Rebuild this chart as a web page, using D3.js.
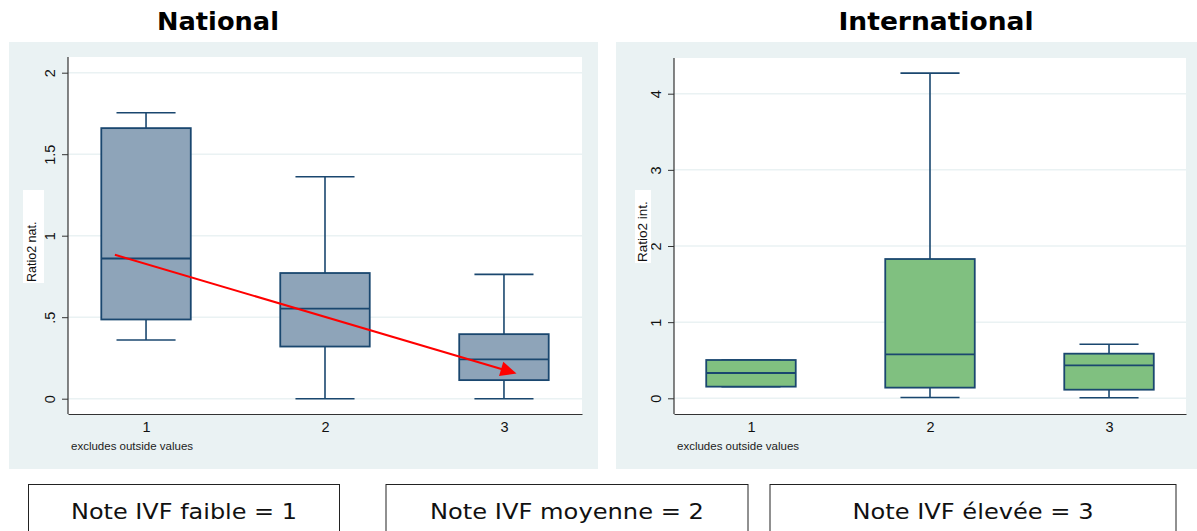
<!DOCTYPE html>
<html><head><meta charset="utf-8">
<script src="https://cdn.jsdelivr.net/npm/d3@7"></script>
<style>body{margin:0;background:#fff}svg{display:block}</style>
</head><body>
<svg id="c" width="1197" height="531"></svg>
<script>
// ---- data ----
const categories = [1, 2, 3];
const natLow  = [0.36, 0.0, 0.0];
const natQ1   = [0.486, 0.32, 0.114];
const natMed  = [0.86, 0.553, 0.241];
const natQ3   = [1.66, 0.771, 0.396];
const natHigh = [1.754, 1.362, 0.763];
const intLow  = [0.153, 0.01, 0.008];
const intQ1   = [0.153, 0.14, 0.113];
const intMed  = [0.332, 0.578, 0.433];
const intQ3   = [0.503, 1.829, 0.586];
const intHigh = [0.503, 4.27, 0.709];
const natTicks = [0, 0.5, 1, 1.5, 2];
const natTickLabels = ["0", ".5", "1", "1.5", "2"];
const intTicks = [0, 1, 2, 3, 4];
const intTickLabels = ["0", "1", "2", "3", "4"];
const trendStart = [0.826, 0.883];
const trendEnd = [3.07, 0.155];
const panelTitles = ["National", "International"];
const yTitles = ["Ratio2 nat.", "Ratio2 int."];
const noteText = "excludes outside values";
const footLabels = ["Note IVF faible = 1", "Note IVF moyenne = 2", "Note IVF élevée = 3"];

const svg = d3.select("#c");
const BG = "#eaf2f3", LINE = "#1a476f";

function fitWidth(sel, w) {
  sel.attr("textLength", w).attr("lengthAdjust", "spacingAndGlyphs");
}

function panel(o) {
  const g = svg.append("g");
  g.append("rect").attr("x", o.bg[0]).attr("y", o.bg[1]).attr("width", o.bg[2]).attr("height", o.bg[3]).attr("fill", BG);
  g.append("rect").attr("x", o.px0).attr("y", o.py0).attr("width", o.px1 - o.px0).attr("height", o.py1 - o.py0).attr("fill", "#fff");
  const x = d3.scaleLinear().domain(o.xDomain).range([o.px0, o.px1]);
  const y = d3.scaleLinear().domain(o.yDomain).range(o.yRange);
  // grid
  g.append("g").selectAll("line").data(o.ticks).join("line")
    .attr("x1", o.px0).attr("x2", o.px1).attr("y1", d => y(d)).attr("y2", d => y(d))
    .attr("stroke", BG).attr("stroke-width", 1.5);
  // boxes
  const data = categories.map((c, i) => ({c, lo: o.lo[i], q1: o.q1[i], med: o.med[i], q3: o.q3[i], hi: o.hi[i]}));
  const bw = 0.25, cw = 0.165;
  const b = g.append("g").selectAll("g").data(data).join("g");
  b.append("line").attr("x1", d => x(d.c)).attr("x2", d => x(d.c)).attr("y1", d => y(d.hi)).attr("y2", d => y(d.q3)).attr("stroke", LINE).attr("stroke-width", 1.6);
  b.append("line").attr("x1", d => x(d.c)).attr("x2", d => x(d.c)).attr("y1", d => y(d.q1)).attr("y2", d => y(d.lo)).attr("stroke", LINE).attr("stroke-width", 1.6);
  b.append("line").attr("x1", d => x(d.c - cw)).attr("x2", d => x(d.c + cw)).attr("y1", d => y(d.hi)).attr("y2", d => y(d.hi)).attr("stroke", LINE).attr("stroke-width", 1.6);
  b.append("line").attr("x1", d => x(d.c - cw)).attr("x2", d => x(d.c + cw)).attr("y1", d => y(d.lo)).attr("y2", d => y(d.lo)).attr("stroke", LINE).attr("stroke-width", 1.6);
  b.append("rect").attr("x", d => x(d.c - bw)).attr("width", d => x(d.c + bw) - x(d.c - bw))
    .attr("y", d => y(d.q3)).attr("height", d => y(d.q1) - y(d.q3))
    .attr("fill", o.fill).attr("stroke", LINE).attr("stroke-width", 1.8);
  b.append("line").attr("x1", d => x(d.c - bw)).attr("x2", d => x(d.c + bw)).attr("y1", d => y(d.med)).attr("y2", d => y(d.med)).attr("stroke", LINE).attr("stroke-width", 1.8);
  // y axis
  const ya = g.append("g").attr("transform", `translate(${o.px0},0)`)
    .call(d3.axisLeft(y).tickValues(o.ticks).tickFormat((d, i) => o.tickLabels[i]).tickSize(6).tickSizeOuter(0));
  ya.select(".domain").remove();
  ya.selectAll(".tick line").attr("stroke", "#333");
  ya.selectAll(".tick text").attr("x", null).attr("dy", null).attr("text-anchor", "middle")
    .attr("transform", "translate(-13,0) rotate(-90)")
    .style("font-family", "'Liberation Sans', Arial, sans-serif").style("font-size", "14.5px").attr("fill", "#111");
  g.append("line").attr("x1", o.px0).attr("x2", o.px0).attr("y1", o.py0).attr("y2", o.py1).attr("stroke", "#333").attr("stroke-width", 1.2);
  // x axis
  const xa = g.append("g").attr("transform", `translate(0,${o.py1})`)
    .call(d3.axisBottom(x).tickValues(categories).tickFormat(d3.format("d")).tickSize(0).tickPadding(8).tickSizeOuter(0));
  xa.select(".domain").attr("stroke", "#333").attr("stroke-width", 1.2);
  xa.selectAll(".tick text").style("font-family", "'Liberation Sans', Arial, sans-serif").style("font-size", "14.5px").attr("fill", "#111");
  // y title with white bg
  g.append("rect").attr("x", o.yt[0]).attr("y", o.yt[1]).attr("width", o.yt[2]).attr("height", o.yt[3]).attr("fill", "#fff");
  g.append("text").attr("transform", `translate(${o.ytx},${o.yty}) rotate(-90)`).attr("text-anchor", "start")
    .style("font-family", "'Liberation Sans', Arial, sans-serif").style("font-size", o.ytSize + "px").attr("fill", "#111").text(o.ytitle);
  // note
  g.append("text").attr("x", o.px0 + 3).attr("y", 450)
    .style("font-family", "'Liberation Sans', Arial, sans-serif").style("font-size", "11.5px").attr("fill", "#222").text(noteText);
  // title
  const t = svg.append("text").attr("x", o.titleX).attr("y", 30).attr("text-anchor", "middle")
    .style("font-family", "'DejaVu Sans', Verdana, sans-serif").style("font-weight", "bold").style("font-size", "25px")
    .attr("fill", "#000").text(o.title);
  fitWidth(t, o.titleW);
  return {x, y, g};
}

const L = panel({bg: [9, 42, 589, 427], px0: 68, px1: 582, py0: 57, py1: 414,
  xDomain: [0.564, 3.436], yDomain: [0, 2], yRange: [398.7, 72.7],
  ticks: natTicks, tickLabels: natTickLabels, fill: "#8ea4b9",
  lo: natLow, q1: natQ1, med: natMed, q3: natQ3, hi: natHigh,
  yt: [23, 190, 21, 93], ytx: 36, yty: 282, ytSize: 12.5, ytitle: yTitles[0],
  titleX: 218, titleW: 122, title: panelTitles[0]});
const R = panel({bg: [616, 42, 581, 427], px0: 674, px1: 1186, py0: 58, py1: 414,
  xDomain: [0.57, 3.43], yDomain: [0, 4], yRange: [398.3, 93.7],
  ticks: intTicks, tickLabels: intTickLabels, fill: "#80c080",
  lo: intLow, q1: intQ1, med: intMed, q3: intQ3, hi: intHigh,
  yt: [635, 190, 16, 73], ytx: 647, yty: 262, ytSize: 13.5, ytitle: yTitles[1],
  titleX: 936, titleW: 195, title: panelTitles[1]});

// trend arrow
{
  const p1 = [L.x(trendStart[0]), L.y(trendStart[1])];
  const p2 = [L.x(trendEnd[0]), L.y(trendEnd[1])];
  const dx = p2[0] - p1[0], dy = p2[1] - p1[1], len = Math.hypot(dx, dy);
  const ux = dx / len, uy = dy / len, hl = 16, hw = 7.5;
  const bx = p2[0] - ux * hl, by = p2[1] - uy * hl;
  L.g.append("line").attr("x1", p1[0]).attr("y1", p1[1]).attr("x2", bx + ux * 2).attr("y2", by + uy * 2)
    .attr("stroke", "#ff0000").attr("stroke-width", 2);
  L.g.append("polygon").attr("points", [[p2[0], p2[1]], [bx - uy * hw, by + ux * hw], [bx + uy * hw, by - ux * hw]].map(p => p.join(",")).join(" "))
    .attr("fill", "#ff0000");
}

// footer boxes
const footX = [28.5, 386, 770], footW = [311, 362, 406], footTextW = [226, 274, 241];
const fg = svg.append("g").selectAll("g").data(footLabels).join("g");
fg.append("rect").attr("x", (d, i) => footX[i]).attr("y", 484.5).attr("width", (d, i) => footW[i]).attr("height", 80)
  .attr("fill", "#fff").attr("stroke", "#222").attr("stroke-width", 1);
fg.append("text").attr("x", (d, i) => footX[i] + footW[i] / 2).attr("y", 519).attr("text-anchor", "middle")
  .style("font-family", "'DejaVu Sans', Verdana, sans-serif").style("font-size", "22px").attr("fill", "#111")
  .attr("textLength", (d, i) => footTextW[i]).attr("lengthAdjust", "spacingAndGlyphs")
  .text(d => d);
</script>
</body></html>
